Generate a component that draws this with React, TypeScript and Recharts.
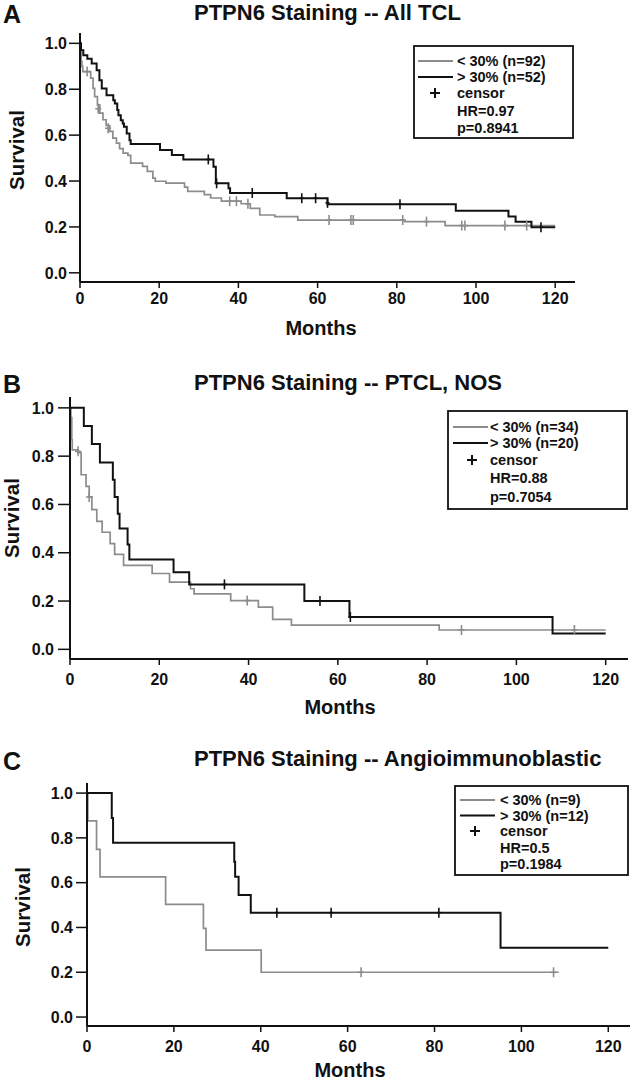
import React from "react";
import { ComposedChart, Line, Scatter, XAxis, YAxis, Legend } from "recharts";

const FONT = "'Liberation Sans', Arial, sans-serif";
const GRAY = "#8c8c8c";
const BLACK = "#111111";

const monthTicks = [0, 20, 40, 60, 80, 100, 120];
const survivalTicks = [0, 0.2, 0.4, 0.6, 0.8, 1.0];

type Pt = [number, number];

// Panel A: All TCL  (month, survival)
const allLow: Pt[] = [
  [0, 1], [0.1, 0.96], [0.3, 0.92], [0.5, 0.9], [0.7, 0.877], [2.7, 0.848],
  [3.3, 0.804], [3.7, 0.768], [4.4, 0.732], [5.0, 0.696], [5.8, 0.667],
  [6.6, 0.642], [7.5, 0.616], [8.3, 0.587], [9.2, 0.565], [10, 0.541],
  [10.9, 0.522], [12.1, 0.512], [12.8, 0.478], [15.8, 0.464], [17, 0.442],
  [18.4, 0.413], [19, 0.399], [21.7, 0.391], [26.4, 0.373], [27.2, 0.355],
  [31.4, 0.341], [33, 0.326], [35.7, 0.312], [40.7, 0.301], [43, 0.281],
  [45.4, 0.252], [49.2, 0.245], [55, 0.23], [82, 0.223], [92.2, 0.206],
  [120, 0.206],
];
const allHigh: Pt[] = [
  [0, 1], [0.25, 0.97], [0.84, 0.948], [1.85, 0.933], [2.95, 0.912],
  [4.2, 0.883], [4.9, 0.839], [5.5, 0.803], [6.7, 0.774], [8.4, 0.752],
  [8.8, 0.738], [9.4, 0.709], [9.7, 0.687], [10.3, 0.665], [10.8, 0.651],
  [11.1, 0.636], [11.8, 0.607], [12.5, 0.578], [12.8, 0.561], [20.2, 0.535],
  [23.2, 0.513], [26.1, 0.494], [33.7, 0.462], [34.3, 0.39], [37.5, 0.368],
  [37.9, 0.348], [52.2, 0.325], [62.5, 0.299], [94.9, 0.27], [108.2, 0.245],
  [110, 0.223], [114, 0.199], [120, 0.199],
];
const allLowCensor: Pt[] = [
  [1.8, 0.877], [4.6, 0.715], [7.1, 0.63], [37.8, 0.312], [39.5, 0.312],
  [42.4, 0.301], [62.9, 0.23], [68.4, 0.23], [69, 0.23], [81.5, 0.23],
  [87.5, 0.223], [96.4, 0.206], [97.2, 0.206], [107.3, 0.206], [112.8, 0.206],
];
const allHighCensor: Pt[] = [
  [32.4, 0.494], [34.5, 0.39], [43.5, 0.348], [56, 0.325], [59.5, 0.325],
  [62.5, 0.305], [80.8, 0.299], [116.4, 0.199],
];

// Panel B: PTCL, NOS
const nosLow: Pt[] = [
  [0, 1], [0.2, 0.96], [0.4, 0.868], [0.5, 0.826], [1.8, 0.815], [2.5, 0.723],
  [3.6, 0.675], [4.3, 0.631], [4.9, 0.579], [6, 0.53], [7.2, 0.485],
  [9, 0.438], [10, 0.393], [12, 0.348], [18.4, 0.314], [22.3, 0.278],
  [27, 0.251], [27.8, 0.23], [36, 0.202], [42.2, 0.175], [45.4, 0.124],
  [49.6, 0.1], [82.7, 0.08], [120, 0.08],
];
const nosHigh: Pt[] = [
  [0, 1], [3.1, 0.925], [4.9, 0.85], [6.7, 0.774], [9.6, 0.702], [10, 0.631],
  [10.7, 0.561], [11.1, 0.5], [12.9, 0.434], [13.3, 0.372], [23.2, 0.319],
  [26.7, 0.269], [52.5, 0.2], [62.6, 0.134], [108.1, 0.066], [120, 0.066],
];
const nosLowCensor: Pt[] = [
  [1.8, 0.82], [4.3, 0.631], [39.7, 0.202], [87.7, 0.08], [113, 0.08],
];
const nosHighCensor: Pt[] = [[34.6, 0.269], [56, 0.2], [62.8, 0.134]];

// Panel C: Angioimmunoblastic
const aitlLow: Pt[] = [
  [0, 1], [0.2, 0.876], [2.2, 0.749], [3.0, 0.626], [18.1, 0.503],
  [26.8, 0.396], [27.4, 0.299], [40.1, 0.2], [108.6, 0.2],
];
const aitlHigh: Pt[] = [
  [0, 1], [5.7, 0.889], [6.0, 0.778], [33.9, 0.693], [34.1, 0.626],
  [34.9, 0.545], [37.7, 0.466], [95.2, 0.309], [120, 0.309],
];
const aitlLowCensor: Pt[] = [[63.1, 0.2], [107.4, 0.2]];
const aitlHighCensor: Pt[] = [[43.7, 0.466], [56.2, 0.466], [81, 0.466]];

const toRows = (pts: Pt[]) => pts.map(([t, s]) => ({ t, s }));

function CensorMark(props: any) {
  const { cx, cy, color, arm = 4 } = props;
  if (cx == null || cy == null) return null;
  return (
    <g>
      <line x1={cx} x2={cx} y1={cy - 5} y2={cy + 5} stroke={color} strokeWidth={1.6} />
      <line x1={cx - arm} x2={cx + arm} y1={cy} y2={cy} stroke={color} strokeWidth={1.6} />
    </g>
  );
}

function MonthsLabel(props: any) {
  const vb = props.viewBox || {};
  return (
    <text
      x={vb.x + vb.width / 2 + props.dx}
      y={vb.y + props.dy}
      textAnchor="middle"
      dominantBaseline="central"
      fontFamily={FONT}
      fontWeight={700}
      fontSize={20}
      fill={BLACK}
    >
      Months
    </text>
  );
}

function SurvivalLabel(props: any) {
  const vb = props.viewBox || {};
  const y = vb.y + vb.height / 2 + props.dy;
  return (
    <text
      x={props.lx}
      y={y}
      transform={`rotate(-90 ${props.lx} ${y})`}
      textAnchor="middle"
      dominantBaseline="central"
      fontFamily={FONT}
      fontWeight={700}
      fontSize={20.5}
      fill={BLACK}
    >
      Survival
    </text>
  );
}

interface LegendBoxProps {
  w: number;
  h: number;
  rows: number[];
  lineX: [number, number];
  plusX: number;
  textX: number;
  lowLabel: string;
  highLabel: string;
  hr: string;
  p: string;
}

function LegendBox(b: LegendBoxProps) {
  const txt = (y: number, s: string) => (
    <text x={b.textX} y={y + 5} fontFamily={FONT} fontWeight={700} fontSize={14.5} fill={BLACK}>
      {s}
    </text>
  );
  return (
    <svg width={b.w} height={b.h} style={{ display: "block" }}>
      <rect x={1} y={1} width={b.w - 2} height={b.h - 2} fill="#fff" stroke={BLACK} strokeWidth={1.8} />
      <line x1={b.lineX[0]} x2={b.lineX[1]} y1={b.rows[0]} y2={b.rows[0]} stroke={GRAY} strokeWidth={2} />
      <line x1={b.lineX[0]} x2={b.lineX[1]} y1={b.rows[1]} y2={b.rows[1]} stroke={BLACK} strokeWidth={2} />
      <line x1={b.plusX - 5} x2={b.plusX + 5} y1={b.rows[2]} y2={b.rows[2]} stroke={BLACK} strokeWidth={2} />
      <line x1={b.plusX} x2={b.plusX} y1={b.rows[2] - 5} y2={b.rows[2] + 5} stroke={BLACK} strokeWidth={2} />
      {txt(b.rows[0], b.lowLabel)}
      {txt(b.rows[1], b.highLabel)}
      {txt(b.rows[2], "censor")}
      {txt(b.rows[3], b.hr)}
      {txt(b.rows[4], b.p)}
    </svg>
  );
}

interface PanelProps {
  top: number;
  height: number;
  plotTop: number;
  right: number;
  yAxisWidth: number;
  xAxisHeight: number;
  xTickMargin: number;
  yTickSize: number;
  yTickMargin: number;
  xLabel: { dx: number; dy: number };
  yLabel: { lx: number; dy: number };
  legendPos: { left: number; top: number };
  legend: LegendBoxProps;
  low: Pt[];
  high: Pt[];
  lowCensor: Pt[];
  highCensor: Pt[];
}

const tickStyle = { fontSize: 16, fontWeight: 700, fontFamily: FONT, fill: BLACK };

function SurvivalPanel(p: PanelProps) {
  return (
    <div style={{ position: "absolute", left: 0, top: p.top }}>
      <ComposedChart
        width={633}
        height={p.height}
        margin={{ top: p.plotTop, right: p.right, left: 0, bottom: 0 }}
      >
        <XAxis
          type="number"
          dataKey="t"
          domain={[0, 125]}
          ticks={monthTicks}
          allowDataOverflow
          height={p.xAxisHeight}
          tickSize={6}
          tickMargin={p.xTickMargin}
          tick={tickStyle}
          axisLine={{ stroke: BLACK, strokeWidth: 2 }}
          tickLine={{ stroke: BLACK, strokeWidth: 1.5 }}
          label={<MonthsLabel dx={p.xLabel.dx} dy={p.xLabel.dy} />}
        />
        <YAxis
          type="number"
          dataKey="s"
          domain={[-0.04, 1.045]}
          ticks={survivalTicks}
          allowDataOverflow
          width={p.yAxisWidth}
          tickSize={p.yTickSize}
          tickMargin={p.yTickMargin}
          tickFormatter={(v: number) => v.toFixed(1)}
          tick={tickStyle}
          axisLine={{ stroke: BLACK, strokeWidth: 2 }}
          tickLine={{ stroke: BLACK, strokeWidth: 1.5 }}
          label={<SurvivalLabel lx={p.yLabel.lx} dy={p.yLabel.dy} />}
        />
        <Line
          data={toRows(p.low)}
          type="stepAfter"
          dataKey="s"
          stroke={GRAY}
          strokeWidth={1.7}
          dot={false}
          isAnimationActive={false}
        />
        <Line
          data={toRows(p.high)}
          type="stepAfter"
          dataKey="s"
          stroke={BLACK}
          strokeWidth={2}
          dot={false}
          isAnimationActive={false}
        />
        <Scatter
          data={toRows(p.lowCensor)}
          dataKey="s"
          shape={<CensorMark color={GRAY} arm={3} />}
          isAnimationActive={false}
        />
        <Scatter
          data={toRows(p.highCensor)}
          dataKey="s"
          shape={<CensorMark color={BLACK} arm={2} />}
          isAnimationActive={false}
        />
        <Legend
          layout="vertical"
          align="center"
          verticalAlign="middle"
          wrapperStyle={{
            left: p.legendPos.left,
            top: p.legendPos.top,
            width: p.legend.w,
            height: p.legend.h,
          }}
          content={() => <LegendBox {...p.legend} />}
        />
      </ComposedChart>
    </div>
  );
}

const headStyle = { fontFamily: FONT, fontWeight: 700, fill: BLACK } as const;

export default function App() {
  return (
    <div
      style={{
        position: "absolute",
        left: 0,
        top: 0,
        width: 633,
        height: 1083,
        background: "#fff",
        overflow: "hidden",
      }}
    >
      <svg width={633} height={1083} style={{ position: "absolute", left: 0, top: 0 }}>
        <text x={3} y={23} fontSize={25} {...headStyle}>A</text>
        <text x={194} y={20} fontSize={22} {...headStyle}>PTPN6 Staining -- All TCL</text>
        <text x={3} y={393} fontSize={25} {...headStyle}>B</text>
        <text x={194} y={389.5} fontSize={22} {...headStyle}>PTPN6 Staining -- PTCL, NOS</text>
        <text x={3} y={770} fontSize={25} {...headStyle}>C</text>
        <text x={194} y={766} fontSize={22} {...headStyle}>PTPN6 Staining -- Angioimmunoblastic</text>
      </svg>

      <SurvivalPanel
        top={0}
        height={345}
        plotTop={33}
        right={58}
        yAxisWidth={80}
        xAxisHeight={63}
        xTickMargin={5}
        yTickSize={11}
        yTickMargin={2}
        xLabel={{ dx: -6.5, dy: 46 }}
        yLabel={{ lx: 16, dy: -7.5 }}
        legendPos={{ left: 413, top: 45 }}
        legend={{
          w: 161, h: 94, rows: [16, 32, 48, 66, 83], lineX: [5, 40], plusX: 22, textX: 44,
          lowLabel: "< 30% (n=92)", highLabel: "> 30% (n=52)", hr: "HR=0.97", p: "p=0.8941",
        }}
        low={allLow}
        high={allHigh}
        lowCensor={allLowCensor}
        highCensor={allHighCensor}
      />
      <SurvivalPanel
        top={360}
        height={360}
        plotTop={37}
        right={5}
        yAxisWidth={70}
        xAxisHeight={61}
        xTickMargin={9}
        yTickSize={12}
        yTickMargin={4}
        xLabel={{ dx: -9, dy: 48 }}
        yLabel={{ lx: 11, dy: -10 }}
        legendPos={{ left: 447, top: 50 }}
        legend={{
          w: 181, h: 100, rows: [17, 33, 50, 68, 87], lineX: [6, 41], plusX: 25, textX: 43,
          lowLabel: "< 30% (n=34)", highLabel: "> 30% (n=20)", hr: "HR=0.88", p: "p=0.7054",
        }}
        low={nosLow}
        high={nosHigh}
        lowCensor={nosLowCensor}
        highCensor={nosHighCensor}
      />
      <SurvivalPanel
        top={740}
        height={343}
        plotTop={43}
        right={3}
        yAxisWidth={87}
        xAxisHeight={57}
        xTickMargin={9}
        yTickSize={11}
        yTickMargin={3}
        xLabel={{ dx: -8.5, dy: 44 }}
        yLabel={{ lx: 22, dy: 2.5 }}
        legendPos={{ left: 454, top: 45 }}
        legend={{
          w: 175, h: 91, rows: [15, 30.5, 46, 62.5, 79], lineX: [6, 41], plusX: 21, textX: 46,
          lowLabel: "< 30% (n=9)", highLabel: "> 30% (n=12)", hr: "HR=0.5", p: "p=0.1984",
        }}
        low={aitlLow}
        high={aitlHigh}
        lowCensor={aitlLowCensor}
        highCensor={aitlHighCensor}
      />
    </div>
  );
}
